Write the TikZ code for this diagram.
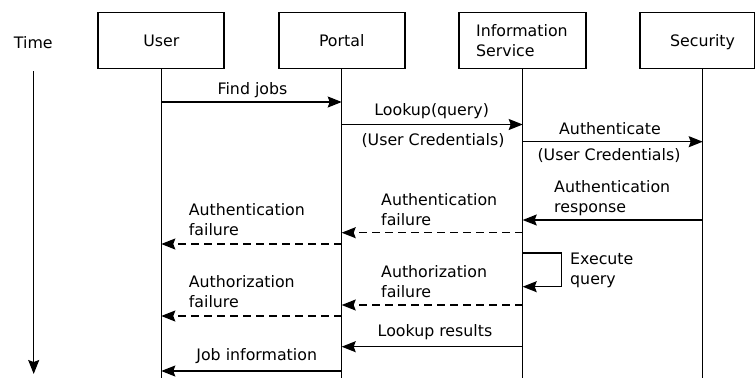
\documentclass[tikz,border=0pt]{standalone}
\usepackage{fontspec}
\setmainfont{DejaVu Sans}
\usetikzlibrary{arrows.meta}
\begin{document}
\begin{tikzpicture}[x=1pt,y=-1pt,
  every node/.style={font=\fontsize{15.8}{20}\selectfont, inner sep=0pt},
  actor/.style={draw, line width=1.3pt, rectangle},
  lbl/.style={anchor=base},
  lbll/.style={anchor=base west, align=left},
  life/.style={line width=1.3pt},
  msg/.style={line width=1.3pt, -{Stealth[length=14pt,width=11pt,inset=2pt]}},
  ret/.style={msg, dash pattern=on 8pt off 5pt}]
\useasboundingbox (0,0) rectangle (755,378);
% actors
\draw[actor] (98,12.5) rectangle (224,68.5);
\draw[actor] (279,12.5) rectangle (405,68.5);
\draw[actor] (459,12.5) rectangle (586,68.5);
\draw[actor] (640,12.5) rectangle (754.3,68.5);
\node[lbl] (user) at (161.3,46) {User};
\node[lbl] (portal) at (341.7,46) {Portal};
\node[lbll] (info) at (476,56.7) {Information\\Service};
\node[lbl] (sec) at (702.5,46) {Security};
\node[lbl] (time) at (33.3,48.3) {Time};
% lifelines
\coordinate (ut) at (161.3,68.5); \coordinate (ub) at (161.3,378);
\coordinate (pt) at (341.7,68.5); \coordinate (pb) at (341.7,378);
\coordinate (it) at (522.7,68.5); \coordinate (ib) at (522.7,378);
\coordinate (st) at (702.7,68.5); \coordinate (sb) at (702.7,378);
\draw[life] (ut) -- (ub);
\draw[life] (pt) -- (pb);
\draw[life] (it) -- (ib);
\draw[life] (st) -- (sb);
% time arrow
\coordinate (t1) at (33.7,71); \coordinate (t2) at (33.7,374);
\draw[msg] (t1) -- (t2);
% messages
\coordinate (m1a) at (161.3,102); \coordinate (m1b) at (341.7,102);
\draw[msg] (m1a) -- (m1b);
\node[lbl] (l1) at (252.5,94.3) {Find jobs};

\coordinate (m2a) at (341.7,124.5); \coordinate (m2b) at (522.7,124.5);
\draw[msg] (m2a) -- (m2b);
\node[lbl] (l2) at (431.7,115) {Lookup(query)};
\node[lbl] (l2b) at (433,145) {(User Credentials)};

\coordinate (m3a) at (522.7,141.7); \coordinate (m3b) at (702.7,141.7);
\draw[msg] (m3a) -- (m3b);
\node[lbl] (l3) at (610,134.3) {Authenticate};
\node[lbl] (l3b) at (609,160.7) {(User Credentials)};

\coordinate (m4a) at (702.7,220); \coordinate (m4b) at (522.7,220);
\draw[msg] (m4a) -- (m4b);
\node[lbll] (l4) at (554,212.3) {Authentication\\response};

\coordinate (m5a) at (522.7,232.7); \coordinate (m5b) at (341.7,232.7);
\draw[ret] (m5a) -- (m5b);
\node[lbll] (l5) at (381,225) {Authentication\\failure};

\coordinate (m6a) at (341.7,244); \coordinate (m6b) at (161.3,244);
\draw[ret] (m6a) -- (m6b);
\node[lbll] (l6) at (188.7,235.7) {Authentication\\failure};

\coordinate (m7a) at (522.7,253); \coordinate (m7b) at (522.7,286.7);
\draw[msg] (m7a) -- (561.7,253) -- (561.7,286.7) -- (m7b);
\node[lbll] (l7) at (570,284.5) {Execute\\query};

\coordinate (m8a) at (522.7,305); \coordinate (m8b) at (341.7,305);
\draw[ret] (m8a) -- (m8b);
\node[lbll] (l8) at (381,297.3) {Authorization\\failure};

\coordinate (m9a) at (341.7,316); \coordinate (m9b) at (161.3,316);
\draw[ret] (m9a) -- (m9b);
\node[lbll] (l9) at (188.7,307.3) {Authorization\\failure};

\coordinate (m10a) at (522.7,346.7); \coordinate (m10b) at (341.7,346.7);
\draw[msg] (m10a) -- (m10b);
\node[lbl] (l10) at (435,336.7) {Lookup results};

\coordinate (m11a) at (341.7,371); \coordinate (m11b) at (161.3,371);
\draw[msg] (m11a) -- (m11b);
\node[lbl] (l11) at (256.7,360) {Job information};
\end{tikzpicture}
\end{document}
